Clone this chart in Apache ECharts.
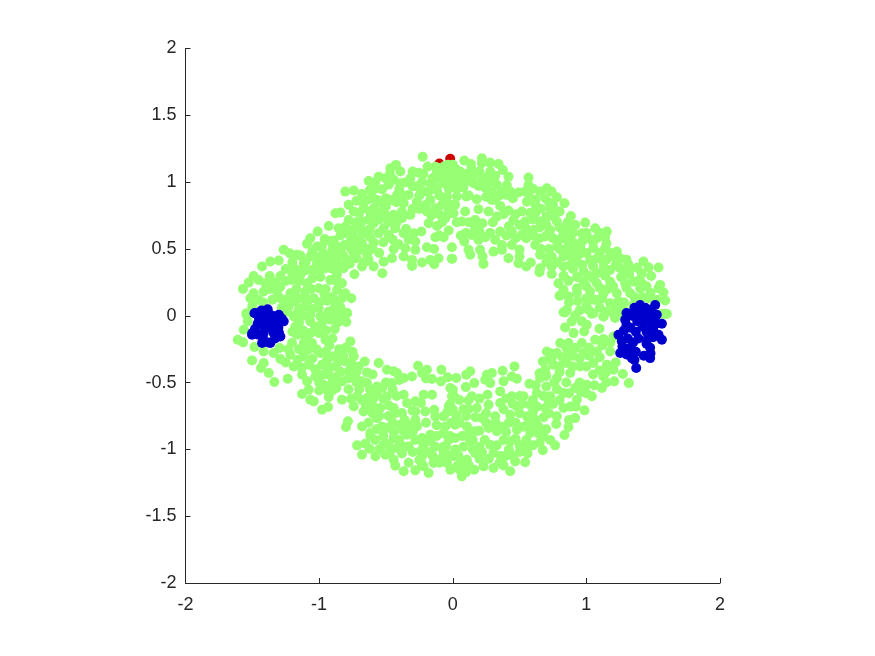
<!DOCTYPE html>
<html>
<head>
    <meta charset="utf-8">
    <script src="https://cdn.jsdelivr.net/npm/echarts@6/dist/echarts.min.js"></script>
    <style>html,body{margin:0;background:#fff}</style>
</head>
<body>
<div id="main" style="width: 875px;height:656px;"></div>

<script type="text/javascript">
    // values, top left / top right / bottom left / bottom right of the ring
    var redPoints = [[-0.019,1.174],[-0.1,1.14]];

    var greenTopLeft = [[-0.1,1.105],[-0.06,1.12],[-0.13,1.115],[0.0,1.13],[-0.035,1.13],[-0.225,1.19],[-0.188,1.116],[-0.255,1.071],[-0.118,1.079],[-0.043,1.091],[-0.02,1.12],[-0.07,1.08],[0.02,1.1],[-0.425,1.129],[-0.467,1.104],[-0.392,1.079],[-0.554,1.041],[-0.504,1.029],[-0.629,1.009],[-0.442,1.017],[-0.392,0.992],[-0.317,1.029],[-0.267,0.967],[-0.168,0.992],[-0.068,0.992],[-0.006,1.029],[-0.804,0.929],[-0.741,0.937],[-0.679,0.912],[-0.587,0.947],[-0.529,0.947],[-0.417,0.904],[-0.455,0.867],[-0.33,0.904],[-0.218,0.929],[-0.118,0.942],[-0.043,0.892],[-0.168,0.867],[-0.268,0.854],[-0.367,0.842],[-0.567,0.867],[-0.642,0.867],[-0.779,0.83],[-0.878,0.767],[-0.841,0.772],[-0.741,0.78],[-0.667,0.805],[-0.592,0.805],[-0.505,0.755],[-0.442,0.755],[-0.38,0.73],[-0.317,0.755],[-0.193,0.78],[-0.13,0.805],[-0.018,0.83],[-0.006,0.767],[-0.056,0.73],[-0.18,0.692],[-0.118,0.672],[-0.779,0.717],[-0.854,0.655],[-0.928,0.672],[-1.011,0.63],[-0.679,0.705],[-0.592,0.692],[-0.517,0.655],[-0.43,0.655],[-0.479,0.605],[-0.367,0.617],[-0.292,0.617],[-0.235,0.63],[-0.554,0.617],[-0.667,0.617],[-0.791,0.617],[-1.066,0.58],[-0.958,0.575],[-0.891,0.563],[-1.09,0.538],[-1.016,0.518],[-0.766,0.555],[-0.679,0.543],[-0.592,0.548],[-0.28,0.555],[-0.405,0.535],[-0.442,0.5],[-0.355,0.505],[-0.28,0.493],[-0.193,0.513],[-0.13,0.588],[-0.03,0.638],[-0.068,0.588],[-0.006,0.513],[-0.455,0.43],[-0.517,0.405],[-0.367,0.443],[-0.305,0.418],[-0.305,0.373],[-0.23,0.398],[-0.168,0.418],[-0.106,0.43],[-0.138,0.386],[-0.006,0.426],[-1.265,0.493],[-1.22,0.468],[-1.165,0.456],[-1.365,0.406],[-1.302,0.413],[-1.427,0.368],[-1.066,0.443],[-0.966,0.468],[-0.841,0.493],[-0.741,0.468],[-0.641,0.456],[-0.791,0.418],[-0.916,0.406],[-1.016,0.393],[-1.115,0.393],[-1.19,0.356],[-1.053,0.343],[-0.953,0.356],[-0.816,0.356],[-0.679,0.368],[-0.592,0.368],[-0.527,0.318],[-0.736,0.311],[-0.866,0.306],[-1.14,0.306],[-1.29,0.298],[-1.37,0.298],[-1.49,0.298],[-1.452,0.268],[-1.527,0.248],[-1.402,0.243],[-1.57,0.201],[-1.203,0.268],[-1.09,0.243],[-0.916,0.268],[-0.829,0.243],[-1.003,0.206],[-1.29,0.218],[-1.415,0.181],[-1.49,0.169],[-1.515,0.131],[-1.452,0.119],[-1.315,0.181],[-1.215,0.169],[-1.103,0.181],[-0.866,0.194],[-0.804,0.169],[-0.759,0.131],[-1.29,0.131],[-1.178,0.106],[-1.04,0.131],[-0.941,0.113],[-0.829,0.131],[-1.228,0.069],[-1.103,0.069],[-1.003,0.056],[-0.891,0.049],[-0.841,0.064],[-0.791,0.019],[-0.866,0.007],[-0.966,-0.006],[-1.066,0.007],[-1.165,0.019],[-1.24,0.031],[-1.544,0.019],
        [-1.14,0.45],[-1.1,0.4],[-1.05,0.48],[-1.0,0.44],[-0.96,0.41],[-0.92,0.45],[-0.87,0.44],[-0.87,0.52],[-0.82,0.45],[-0.81,0.53],[-0.76,0.5],[-0.72,0.43],[-0.7,0.49],[-0.66,0.4],[-0.63,0.42],[-0.77,0.39],[-0.85,0.38],[-0.9,0.35],[-1.0,0.34],[-1.1,0.34],[-1.16,0.34],[-1.15,0.26],[-1.05,0.28],[-0.99,0.29],[-0.87,0.26],[-1.25,0.26],[-1.17,0.2],[-1.06,0.2],[-0.95,0.2],[-1.24,0.12],[-1.13,0.13],[-1.0,0.1],[-0.88,0.1],[-1.15,0.05],[-1.05,0.05],[-0.93,0.03],[-0.72,0.7],[-0.74,0.65],[-0.69,0.65],[-0.62,0.65],[-0.63,0.72],[-0.55,0.72],[-0.57,0.76],[-0.7,0.77],[-0.67,0.85],[-0.7,0.58],[-0.62,0.59],[-0.84,0.6],[-0.8,0.67],[-0.55,0.85],[-0.62,0.94],[-0.5,0.82],[-0.4,0.95],[-0.37,0.9],[-0.42,0.85],[-0.3,0.97],[-0.25,0.9],[-0.18,0.93],[-0.15,1.03],[-0.23,1.0],[-0.1,0.9],[-0.2,0.83],[-0.3,0.8],[-0.08,0.83],[-0.38,0.78],[-0.48,0.7],[-0.42,0.7],[-0.03,0.95],[-0.35,1.0],[-0.47,1.06],[-0.1,1.03],[-0.05,1.04],[-0.16,0.75],[-0.03,0.78],[-0.1,0.6],[-0.14,0.5],[-0.08,0.7],
        [-1.2,0.4],[-1.25,0.35],[-1.2,0.31],[-1.33,0.25],[-1.37,0.2],[-1.35,0.12],[-1.42,0.1],[-1.28,0.06],[-1.5,0.07],[-0.9,0.14],[-0.96,0.16],[-1.08,0.12],[-1.18,0.15],[-0.98,0.52],[-0.92,0.56],[-0.9,0.5],[-0.75,0.6],[-0.72,0.53],[-0.6,0.5],[-0.55,0.47],[-0.63,0.5],[-0.52,0.55],[-0.45,0.57],[-0.33,0.57],[-0.35,0.65],[-0.5,0.88],[-0.48,0.98],[-0.58,1.0],[-0.3,1.08],[-0.22,1.06],[-0.14,0.97],[-0.05,0.85],[-0.25,0.8],[-0.1,0.76],[-0.52,0.79],[-0.6,0.88],[-0.72,0.86],[-0.62,0.78]];

    var greenTopRight = [[0.086,1.161],[0.136,1.136],[0.218,1.179],[0.218,1.141],[0.28,1.146],[0.343,1.136],[0.375,1.091],[0.417,1.041],[0.056,1.079],[0.006,1.091],[0.156,1.054],[0.156,0.992],[0.255,1.037],[0.318,1.047],[0.031,0.992],[0.093,1.004],[0.193,0.972],[0.405,0.979],[0.567,1.034],[0.567,0.979],[0.293,0.929],[0.368,0.929],[0.492,0.922],[0.567,0.917],[0.704,0.954],[0.654,0.929],[0.779,0.887],[0.836,0.842],[0.031,0.892],[0.101,0.892],[0.18,0.872],[0.293,0.867],[0.405,0.904],[0.555,0.854],[0.692,0.879],[0.355,0.822],[0.018,0.83],[0.093,0.78],[0.006,0.767],[0.193,0.797],[0.268,0.78],[0.417,0.787],[0.517,0.78],[0.617,0.767],[0.729,0.805],[0.767,0.78],[0.884,0.747],[0.33,0.742],[0.455,0.717],[0.542,0.705],[0.654,0.705],[0.779,0.705],[0.068,0.705],[0.168,0.717],[0.223,0.692],[0.991,0.697],[0.916,0.68],[1.066,0.655],[1.153,0.63],[1.14,0.588],[0.966,0.617],[1.016,0.58],[1.078,0.58],[0.879,0.568],[0.829,0.617],[0.729,0.642],[0.604,0.642],[0.355,0.63],[0.442,0.63],[0.517,0.605],[0.168,0.655],[0.143,0.605],[0.086,0.555],[0.243,0.588],[0.318,0.568],[0.193,0.568],[0.617,0.53],[0.692,0.593],[0.779,0.518],[0.854,0.505],[0.954,0.518],[1.053,0.505],[1.14,0.505],[1.228,0.48],[1.203,0.443],[0.368,0.53],[0.442,0.53],[0.305,0.48],[0.368,0.493],[0.118,0.493],[0.131,0.456],[0.205,0.493],[0.223,0.443],[0.23,0.388],[-0.006,0.426],[0.417,0.43],[0.5,0.493],[0.5,0.443],[0.492,0.393],[0.55,0.368],[0.584,0.398],[0.654,0.456],[0.741,0.443],[0.829,0.443],[0.929,0.406],[1.028,0.418],[1.128,0.405],[1.253,0.43],[0.654,0.356],[0.649,0.326],[0.741,0.368],[0.741,0.313],[0.829,0.368],[0.979,0.331],[1.078,0.318],[1.178,0.343],[1.315,0.381],[1.427,0.406],[1.465,0.363],[1.54,0.361],[1.485,0.298],[1.415,0.318],[1.278,0.318],[1.353,0.256],[1.415,0.243],[1.552,0.231],[1.54,0.206],[1.577,0.174],[1.402,0.206],[1.29,0.243],[1.178,0.256],[1.078,0.243],[0.979,0.256],[0.866,0.261],[0.791,0.243],[0.829,0.194],[0.799,0.149],[0.929,0.206],[0.866,0.144],[0.936,0.111],[1.028,0.181],[1.128,0.169],[1.228,0.169],[1.328,0.169],[1.465,0.131],[1.527,0.119],[1.59,0.114],[0.854,0.044],[0.829,0.026],[0.916,0.002],[1.016,0.044],[1.053,0.019],[1.128,-0.006],[1.203,0.019],[1.278,0.044],[1.078,0.119],[1.178,0.094],[1.565,0.014],[1.602,0.014],
        [0.05,1.04],[0.1,1.06],[0.2,1.08],[0.14,1.1],[0.28,1.08],[0.03,0.95],[0.08,0.96],[0.24,0.96],[0.33,0.98],[0.27,1.0],[0.43,0.93],[0.54,0.93],[0.32,0.87],[0.62,0.87],[0.62,0.83],[0.66,0.8],[0.72,0.85],[0.76,0.74],[0.7,0.74],[0.6,0.72],[0.65,0.66],[0.58,0.77],[0.47,0.76],[0.38,0.76],[0.5,0.68],[0.6,0.6],[0.7,0.68],[0.75,0.58],[0.8,0.66],[0.55,0.65],[0.47,0.58],[0.4,0.6],[0.28,0.62],[0.12,0.7],[0.06,0.6],[0.1,0.62],[0.2,0.63],[0.03,0.7],[0.9,0.55],[0.92,0.5],[0.97,0.56],[1.05,0.55],[1.15,0.54],[1.0,0.47],[1.1,0.47],[1.18,0.47],[0.88,0.45],[0.95,0.46],[0.97,0.38],[1.05,0.37],[1.13,0.36],[1.08,0.43],[0.9,0.35],[1.02,0.3],[1.14,0.3],[1.22,0.38],[1.25,0.36],[1.32,0.31],[1.38,0.36],[0.93,0.29],[1.0,0.22],[1.1,0.21],[1.2,0.22],[1.26,0.29],[1.05,0.28],[1.16,0.2],[1.3,0.21],[1.36,0.14],[1.24,0.11],[1.0,0.13],[1.12,0.13],[1.28,0.1],[1.35,0.08],[1.22,0.06],[1.1,0.06],[0.95,0.04],[1.15,0.03],[1.25,0.02],[0.7,0.4],[0.8,0.5],[0.72,0.5],[0.66,0.5],[0.85,0.57],
        [0.0,1.0],[0.12,1.02],[0.22,1.02],[0.12,0.9],[0.25,0.89],[0.35,0.9],[0.45,0.88],[0.6,0.95],[0.74,0.93],[0.75,0.83],[0.8,0.78],[0.86,0.7],[0.72,0.62],[0.85,0.65],[0.9,0.62],[0.8,0.57],[1.0,0.62],[1.1,0.62],[0.65,0.58],[0.55,0.58],[0.42,0.67],[0.3,0.7],[1.24,0.43],[1.3,0.42],[1.32,0.35],[1.4,0.27],[1.45,0.22],[1.48,0.17],[1.42,0.14],[1.05,0.12],[0.93,0.17],[1.0,0.07],[0.87,0.1],[1.15,0.42],[0.88,0.38],[0.83,0.3],[0.72,0.44],[0.78,0.4]];

    var greenBottomLeft = [[-1.544,0.008],[-1.534,-0.042],[-1.564,-0.105],[-1.609,-0.179],[-1.569,-0.199],[-1.484,-0.234],[-1.415,-0.267],[-1.502,-0.334],[-1.415,-0.354],[-1.435,-0.391],[-1.377,-0.429],[-1.335,-0.496],[-1.235,-0.471],[-1.34,-0.279],[-1.295,-0.242],[-1.29,-0.324],[-1.19,-0.005],[-1.178,-0.08],[-1.165,-0.142],[-1.066,-0.13],[-1.066,-0.042],[-0.991,-0.005],[-0.916,-0.03],[-0.841,0.008],[-0.791,0.02],[-0.796,-0.047],[-0.883,-0.1],[-0.948,-0.11],[-1.203,-0.204],[-1.115,-0.204],[-1.053,-0.204],[-0.953,-0.179],[-0.923,-0.222],[-0.766,-0.192],[-0.799,-0.237],[-0.741,-0.304],[-0.659,-0.342],[-0.704,-0.379],[-0.554,-0.354],[-0.642,-0.424],[-1.215,-0.292],[-1.115,-0.304],[-0.991,-0.279],[-0.891,-0.304],[-0.804,-0.342],[-1.19,-0.379],[-1.078,-0.366],[-0.978,-0.366],[-0.878,-0.379],[-0.779,-0.416],[-1.128,-0.441],[-1.028,-0.454],[-0.928,-0.441],[-0.829,-0.491],[-0.729,-0.466],[-0.642,-0.504],[-1.09,-0.491],[-0.966,-0.516],[-0.871,-0.541],[-1.128,-0.586],[-1.066,-0.628],[-1.04,-0.641],[-1.078,-0.554],[-0.928,-0.608],[-0.829,-0.628],[-0.741,-0.678],[-0.716,-0.603],[-0.642,-0.616],[-0.933,-0.683],[-0.978,-0.703],[-0.667,-0.716],[-0.679,-0.828],[-0.784,-0.79],[-0.799,-0.833],[-0.567,-0.529],[-0.529,-0.541],[-0.592,-0.616],[-0.492,-0.603],[-0.542,-0.691],[-0.442,-0.691],[-0.492,-0.404],[-0.442,-0.416],[-0.417,-0.429],[-0.455,-0.504],[-0.367,-0.466],[-0.305,-0.454],[-0.26,-0.374],[-0.23,-0.429],[-0.193,-0.404],[-0.155,-0.474],[-0.085,-0.404],[-0.088,-0.491],[-0.038,-0.461],[-0.018,-0.541],[-0.006,-0.603],[-0.367,-0.591],[-0.342,-0.653],[-0.218,-0.591],[-0.155,-0.591],[-0.238,-0.653],[-0.205,-0.716],[-0.138,-0.703],[-0.03,-0.678],[-0.13,-0.753],[-0.068,-0.753],[-0.056,-0.828],[-0.28,-0.716],[-0.28,-0.778],[-0.268,-0.828],[-0.38,-0.728],[-0.392,-0.815],[-0.567,-0.766],[-0.617,-0.878],[-0.492,-0.84],[-0.617,-0.898],[-0.342,-0.89],[-0.442,-0.915],[-0.23,-0.915],[-0.168,-0.89],[-0.168,-0.94],[-0.716,-0.97],[-0.654,-0.957],[-0.622,-0.995],[-0.679,-1.04],[-0.517,-0.965],[-0.417,-0.99],[-0.33,-0.978],[-0.242,-1.015],[-0.068,-0.978],[-0.03,-0.928],[-0.068,-1.015],[-0.579,-1.052],[-0.504,-1.04],[-0.442,-1.077],[-0.43,-1.122],[-0.367,-1.164],[-0.28,-1.157],[-0.218,-1.127],[-0.18,-1.177],[-0.143,-1.102],[-0.08,-1.065],[-0.018,-1.152],[0.007,-1.052],[-0.043,-1.102],[-0.23,-1.052],
        [-1.15,-0.25],[-1.08,-0.25],[-1.02,-0.25],[-0.95,-0.27],[-0.85,-0.25],[-1.16,-0.33],[-1.05,-0.32],[-0.94,-0.33],[-0.85,-0.34],[-0.76,-0.36],[-1.13,-0.39],[-1.03,-0.4],[-0.93,-0.39],[-0.84,-0.42],[-0.72,-0.42],[-1.0,-0.5],[-0.9,-0.5],[-0.78,-0.47],[-0.68,-0.49],[-0.78,-0.55],[-0.7,-0.55],[-0.9,-0.56],[-1.15,-0.05],[-1.12,-0.11],[-1.12,0],[-1.03,-0.08],[-0.62,-0.55],[-0.6,-0.67],[-0.57,-0.58],[-0.52,-0.62],[-0.48,-0.67],[-0.6,-0.73],[-0.55,-0.75],[-0.48,-0.75],[-0.53,-0.83],[-0.45,-0.8],[-0.57,-0.85],[-0.52,-0.9],[-0.44,-0.87],[-0.37,-0.86],[-0.36,-0.78],[-0.33,-0.82],[-0.48,-0.96],[-0.4,-0.93],[-0.28,-0.93],[-0.3,-0.87],[-0.22,-0.97],[-0.38,-1.03],[-0.3,-1.02],[-0.18,-1.02],[-0.13,-0.98],[-0.05,-0.98],[-0.15,-1.05],[-0.1,-1.1],[-0.23,-1.11],[-0.02,-1.05],[-0.02,-0.9],[-0.01,-0.8],[-0.04,-0.72],[-0.42,-0.6],[-0.45,-0.55],[-0.4,-0.48],[-0.2,-0.47],[-0.02,-0.66],
        [-1.2,-0.12],[-1.0,-0.13],[-1.1,-0.16],[-0.98,-0.06],[-0.86,-0.05],[-1.23,-0.25],[-1.25,-0.35],[-0.9,-0.17],[-0.75,-0.27],[-0.82,-0.3],[-0.97,-0.44],[-0.88,-0.46],[-1.0,-0.56],[-0.95,-0.55],[-0.72,-0.5],[-0.76,-0.62],[-0.68,-0.63],[-0.65,-0.68],[-0.63,-0.8],[-0.58,-0.93],[-0.55,-1.0],[-0.47,-1.02],[-0.36,-0.98],[-0.25,-1.08],[-0.33,-1.1],[-0.28,-0.64],[-0.3,-0.71],[-0.12,-0.82],[-0.12,-0.9],[-0.07,-0.88],[-0.2,-0.8],[-0.43,-0.73],[-0.5,-0.5],[-0.6,-0.44]];

    var greenBottomRight = [[1.589,0.015],[0.841,0.025],[1.041,0.015],[1.128,-0.005],[1.215,-0.017],[0.891,-0.042],[0.841,-0.087],[0.966,-0.042],[1.003,-0.067],[0.984,-0.117],[0.904,-0.13],[1.098,-0.097],[1.203,-0.155],[1.066,-0.179],[1.128,-0.174],[0.966,-0.204],[0.804,-0.204],[0.866,-0.204],[0.704,-0.267],[0.674,-0.342],[0.779,-0.279],[0.866,-0.279],[0.979,-0.279],[1.078,-0.267],[1.178,-0.267],[0.754,-0.366],[0.854,-0.354],[0.954,-0.379],[1.053,-0.354],[1.153,-0.366],[1.203,-0.404],[1.273,-0.436],[1.318,-0.504],[1.208,-0.491],[1.116,-0.541],[1.128,-0.454],[1.041,-0.603],[1.003,-0.516],[0.916,-0.541],[0.879,-0.429],[0.779,-0.466],[0.692,-0.404],[0.654,-0.466],[0.574,-0.509],[0.462,-0.379],[0.373,-0.411],[0.293,-0.429],[0.255,-0.441],[0.243,-0.479],[0.28,-0.504],[0.38,-0.491],[0.442,-0.454],[0.48,-0.471],[0.131,-0.416],[0.101,-0.441],[0.026,-0.466],[0.161,-0.504],[0.098,-0.534],[0.001,-0.554],[0.011,-0.603],[0.143,-0.603],[0.118,-0.633],[0.26,-0.591],[0.355,-0.566],[0.268,-0.666],[0.355,-0.653],[0.442,-0.603],[0.118,-0.698],[0.18,-0.691],[0.026,-0.746],[0.53,-0.603],[0.629,-0.578],[0.729,-0.603],[0.829,-0.578],[0.929,-0.628],[0.48,-0.678],[0.58,-0.666],[0.692,-0.691],[0.829,-0.691],[0.986,-0.708],[0.916,-0.766],[0.779,-0.753],[0.774,-0.81],[0.866,-0.833],[0.836,-0.893],[0.766,-0.97],[0.674,-1.007],[0.679,-0.903],[0.642,-0.828],[0.555,-0.753],[0.43,-0.741],[0.318,-0.753],[0.218,-0.765],[0.106,-0.828],[0.018,-0.815],[0.018,-0.915],[0.168,-0.865],[0.33,-0.865],[0.48,-0.853],[0.58,-0.878],[0.131,-0.94],[0.28,-0.965],[0.43,-0.94],[0.542,-0.978],[0.043,-1.047],[0.168,-1.027],[0.305,-1.027],[0.393,-1.052],[0.542,-1.097],[0.467,-1.09],[0.23,-1.127],[0.305,-1.14],[0.161,-1.152],[0.106,-1.077],[0.031,-1.127],[0.068,-1.177],[0.068,-1.202],[0.43,-1.164],
        [0.75,-0.3],[0.82,-0.31],[0.9,-0.3],[0.95,-0.32],[1.02,-0.3],[1.1,-0.31],[1.12,-0.22],[1.18,-0.2],[1.02,-0.24],[0.92,-0.24],[0.72,-0.33],[0.8,-0.38],[0.9,-0.38],[1.0,-0.38],[1.1,-0.41],[1.05,-0.44],[0.8,-0.42],[0.76,-0.5],[0.7,-0.53],[0.62,-0.52],[0.85,-0.5],[0.95,-0.5],[1.06,-0.52],[1.15,-0.5],[0.96,-0.57],[0.87,-0.58],[0.78,-0.55],[0.68,-0.6],[0.6,-0.63],[0.52,-0.66],[0.45,-0.66],[0.63,-0.68],[0.75,-0.66],[0.88,-0.68],[0.8,-0.63],[0.5,-0.73],[0.6,-0.72],[0.68,-0.76],[0.47,-0.8],[0.38,-0.7],[0.25,-0.73],[0.17,-0.76],[0.1,-0.75],[0.53,-0.83],[0.64,-0.88],[0.55,-0.93],[0.6,-0.97],[0.47,-0.92],[0.37,-0.83],[0.27,-0.84],[0.2,-0.86],[0.13,-0.86],[0.07,-0.9],[0.05,-0.8],[0.38,-0.93],[0.33,-0.97],[0.24,-0.93],[0.08,-0.98],[0.2,-0.98],[0.5,-1.02],[0.42,-1.0],[0.56,-1.03],[0.36,-1.05],[0.27,-1.07],[0.2,-1.07],[0.12,-1.12],[0.06,-1.1],[0.02,-1.0],[0.5,-0.97],[0.65,-0.95],
        [0.65,-0.43],[0.7,-0.45],[0.73,-0.28],[0.85,-0.24],[1.15,-0.42],[1.22,-0.35],[1.0,-0.58],[0.92,-0.68],[0.72,-0.73],[0.62,-0.78],[0.57,-0.8],[0.42,-0.8],[0.32,-0.8],[0.25,-0.8],[0.1,-0.9],[0.15,-0.93],[0.4,-0.87],[0.6,-0.83],[0.7,-0.85],[0.73,-0.93],[0.45,-1.05],[0.15,-1.0],[0.22,-1.02],[0.05,-1.15],[0.35,-1.1],[0.38,-1.12],[0.1,-1.17],[0.08,-0.7],[0.0,-0.7],[0.05,-0.63],[0.2,-0.62],[0.4,-0.62],[0.5,-0.6],[0.87,-0.78],[0.72,-0.65]];

    var blueLeft = [[-1.484,0.019],[-1.385,0.049],[-1.302,0.007],[-1.477,0.02],[-1.265,-0.042],[-1.315,-0.005],[-1.502,-0.142],[-1.46,-0.06],[-1.29,-0.155],[-1.365,-0.204],[-1.427,-0.204],[-1.39,-0.05],[-1.415,-0.13],[-1.34,-0.13],[-1.45,-0.02],[-1.34,-0.06],[-1.365,0.005],[-1.415,0.02],[-1.305,-0.09],[-1.46,-0.14],[-1.43,0.0],[-1.35,0.0],[-1.28,-0.02],[-1.42,-0.07],[-1.37,-0.09],[-1.3,-0.13],[-1.48,-0.1],[-1.33,-0.17],[-1.42,-0.17],[-1.38,-0.2],[-1.3,-0.04],[-1.5,-0.13],[-1.43,0.04],[-1.33,-0.02]];
    var blueRight = [[1.29,-0.03],[1.24,-0.142],[1.265,-0.19],[1.253,-0.279],[1.34,-0.317],[1.373,-0.391],[1.477,-0.317],[1.565,-0.179],[1.565,-0.06],[1.54,-0.142],[1.477,-0.24],[1.34,0.0],[1.43,-0.005],[1.527,0.008],[1.402,0.081],[1.515,0.081],[1.34,0.019],[1.477,0.044],[1.33,-0.09],[1.42,-0.08],[1.49,-0.09],[1.31,-0.17],[1.39,-0.17],[1.46,-0.17],[1.3,-0.25],[1.37,-0.27],[1.43,-0.3],[1.51,-0.03],[1.3,0.02],[1.38,0.03],[1.45,0.02],[1.38,-0.04],[1.45,-0.04],[1.3,-0.07],[1.37,-0.12],[1.45,-0.12],[1.5,-0.16],[1.28,-0.11],[1.35,-0.2],[1.45,-0.21],[1.5,-0.1],[1.52,-0.06],[1.27,-0.23],[1.33,-0.24],[1.48,-0.28],[1.36,-0.33],[1.3,-0.29],[1.44,0.06],[1.4,0.0],[1.5,0.0],[1.36,0.06]];

    var dotSize = 10;
    var greenPoints = greenTopLeft.concat(greenTopRight, greenBottomLeft, greenBottomRight);
    var bluePoints = blueLeft.concat(blueRight);

    var myChart = echarts.init(document.getElementById("main"));
    var inkColor = '#262626';
    function makeAxis(step, labelMargin, labelPadding) {
        return {
            type: 'value',
            min: -2,
            max: 2,
            interval: step,
            splitLine: {show: false},
            axisLine: {onZero: false, lineStyle: {color: inkColor, width: 1}},
            axisTick: {inside: true, length: 5, lineStyle: {color: inkColor, width: 1}},
            axisLabel: {color: inkColor, fontFamily: 'Liberation Sans', fontSize: 18, margin: labelMargin, padding: labelPadding, hideOverlap: false, showMinLabel: true, showMaxLabel: true}
        };
    }
    var option = {
        animation: false,
        backgroundColor: '#fff',
        grid: {left: 185.5, top: 48.5, width: 534.5, height: 534.5},
        xAxis: makeAxis(1, 13, 0),
        yAxis: makeAxis(0.5, 9, [7, 0, 0, 0]),
        series: [
            {type: 'scatter', name: 'red', data: redPoints, symbolSize: dotSize, itemStyle: {color: '#CC0000', opacity: 1}},
            {type: 'scatter', name: 'green', data: greenPoints, symbolSize: dotSize, itemStyle: {color: '#97FF73', opacity: 1}},
            {type: 'scatter', name: 'blue', data: bluePoints, symbolSize: dotSize, itemStyle: {color: '#0000CD', opacity: 1}}
        ]
    };
    myChart.setOption(option);
</script>
</body>
</html>
